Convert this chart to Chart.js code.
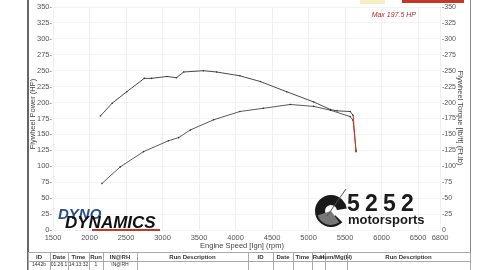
<!DOCTYPE html>
<html>
<head>
<meta charset="utf-8">
<script src="https://cdn.jsdelivr.net/npm/chart.js@4/dist/chart.umd.min.js"></script>
<style>
  html, body { margin: 0; padding: 0; background: #fff; }
  #wrap { width: 480px; height: 270px; position: relative; }
</style>
</head>
<body>
<div id="wrap"><canvas id="dyno" width="480" height="270"></canvas></div>
<script>
// values
var torqueRpm = [2150, 2310, 2510, 2750, 2850, 3060, 3190, 3290, 3560, 3740, 4060, 4340, 4700, 5070, 5300, 5390, 5570, 5610, 5650];
var torqueVal = [179, 199, 217, 238, 238, 241, 239, 248, 250, 248, 242, 233, 217, 201, 189, 187, 186, 180, 123];
var powerRpm = [2170, 2420, 2740, 3080, 3220, 3380, 3700, 4060, 4380, 4750, 5070, 5300, 5570, 5610, 5650];
var powerVal = [73, 99, 123, 140, 145, 157, 173, 186, 191, 197, 194, 188, 178, 172, 125];
var rpmTicks = [1500, 2000, 2500, 3000, 3500, 4000, 4500, 5000, 5500, 6000, 6500, 6800];
var tableLeft = ['ID', 'Date', 'Time', 'Run', 'IN@RH', 'Run Description'];
var tableRight = ['ID', 'Date', 'Time', 'Run', 'Hum/Mg(H)', 'Run Description'];
var tableRow = ['1442b', '01.26.1', '14:13:32', '1', 'IN@RH', ''];

var FONT = "'Liberation Sans Narrow', 'Arial Narrow', 'Liberation Sans', sans-serif";

function toPoints(xs, ys) {
    return xs.map(function(x, i) { return { x: x, y: ys[i] }; });
}

function endRed(count, base) {
    return function(ctx) {
        return ctx.p1DataIndex === count - 1 ? '#c0392b' : base;
    };
}

var sheetPlugin = {
    id: 'sheet',
    beforeDraw: function(chart) {
        var c = chart.ctx;
        c.save();
        c.fillStyle = '#fff';
        c.fillRect(0, 0, 480, 270);
        c.restore();
    },
    afterDraw: function(chart) {
        var c = chart.ctx;
        c.save();

        // frame lines
        c.strokeStyle = '#333';
        c.lineWidth = 1.5;
        c.beginPath();
        c.moveTo(28, 0); c.lineTo(28, 270);
        c.stroke();
        c.strokeStyle = '#888';
        c.lineWidth = 1;
        c.beginPath();
        c.moveTo(470.5, 0); c.lineTo(470.5, 270);
        c.stroke();

        // top strip bits
        c.fillStyle = '#f6f0c8';
        c.fillRect(360, 0, 25, 4);
        c.fillStyle = '#c0392b';
        c.fillRect(402, 0, 62, 3);

        // max label
        c.fillStyle = '#b03030';
        c.font = 'italic 7px ' + FONT;
        c.textAlign = 'right';
        c.textBaseline = 'middle';
        c.fillText('Max 197.5 HP', 416, 15);

        // axis titles
        c.fillStyle = '#444';
        c.font = '7.5px ' + FONT;
        c.textAlign = 'center';
        c.fillText('Engine Speed [Ign] (rpm)', 242, 246);
        c.save();
        c.translate(33, 114);
        c.rotate(-Math.PI / 2);
        c.fillText('Flywheel Power (HP)', 0, 0);
        c.restore();
        c.save();
        c.translate(460, 118);
        c.rotate(Math.PI / 2);
        c.fillText('Flywheel Torque [lb/ft] (Ft.lb)', 0, 0);
        c.restore();

        // Dyno Dynamics logo
        c.textAlign = 'left';
        c.textBaseline = 'alphabetic';
        c.font = 'italic bold 15px ' + FONT;
        c.fillStyle = '#2b4f8f';
        c.fillText('DYNO', 58, 219);
        c.fillStyle = '#111';
        c.font = 'italic bold 17px ' + FONT;
        c.fillText('DYNAMICS', 65, 228);
        c.fillStyle = '#c0392b';
        c.fillRect(92, 229, 68, 2);

        // 5252 motorsports logo
        c.fillStyle = '#1a1a1a';
        c.beginPath();
        c.arc(331, 211, 16, 0.25 * Math.PI, 1.95 * Math.PI);
        c.lineTo(331, 211);
        c.closePath();
        c.fill();
        c.fillStyle = '#fff';
        c.beginPath();
        c.arc(331, 211, 6, 0, 2 * Math.PI);
        c.fill();
        c.fillStyle = '#777';
        c.beginPath();
        c.moveTo(331, 211);
        c.arc(331, 211, 14, 0.3 * Math.PI, 0.9 * Math.PI);
        c.closePath();
        c.fill();
        c.strokeStyle = '#555';
        c.lineWidth = 1;
        c.beginPath();
        c.moveTo(327, 216); c.lineTo(346, 189);
        c.stroke();
        c.fillStyle = '#1a1a1a';
        c.font = 'bold 23px ' + FONT;
        ['5', '2', '5', '2'].forEach(function(d, i) {
            c.fillText(d, 347 + i * 18, 211);
        });
        c.font = 'bold 13px ' + FONT;
        c.fillText('motorsports', 348, 224);

        // run table
        c.strokeStyle = '#aaa';
        c.lineWidth = 1;
        c.beginPath();
        c.moveTo(28, 252.5); c.lineTo(470, 252.5);
        c.moveTo(28, 261.5); c.lineTo(470, 261.5);
        c.stroke();
        var colsL = [28, 50, 68, 89, 103, 137, 248];
        var colsR = [248, 273, 293, 312, 325, 347, 470];
        c.beginPath();
        colsL.concat(colsR).forEach(function(x) {
            c.moveTo(x + 0.5, 252); c.lineTo(x + 0.5, 270);
        });
        c.stroke();
        c.fillStyle = '#333';
        c.font = 'bold 6px ' + FONT;
        c.textAlign = 'center';
        c.textBaseline = 'middle';
        tableLeft.forEach(function(t, i) {
            c.fillText(t, (colsL[i] + colsL[i + 1]) / 2, 257);
        });
        tableRight.forEach(function(t, i) {
            c.fillText(t, (colsR[i] + colsR[i + 1]) / 2, 257);
        });
        c.font = '5px ' + FONT;
        tableRow.forEach(function(t, i) {
            c.fillText(t, (colsL[i] + colsL[i + 1]) / 2, 265);
        });

        c.restore();
    }
};

new Chart(document.getElementById('dyno'), {
    type: 'line',
    data: {
        datasets: [{
            label: 'Torque',
            data: toPoints(torqueRpm, torqueVal),
            borderColor: '#4a4a4a',
            borderWidth: 1,
            pointRadius: 0.8,
            pointBackgroundColor: '#333',
            pointBorderWidth: 0,
            tension: 0,
            yAxisID: 'yR',
            segment: { borderColor: endRed(torqueRpm.length, '#4a4a4a') }
        }, {
            label: 'Power',
            data: toPoints(powerRpm, powerVal),
            borderColor: '#5a5a5a',
            borderWidth: 1,
            pointRadius: 0.8,
            pointBackgroundColor: '#333',
            pointBorderWidth: 0,
            tension: 0,
            yAxisID: 'y',
            segment: { borderColor: endRed(powerRpm.length, '#5a5a5a') }
        }]
    },
    options: {
        responsive: false,
        animation: false,
        layout: { padding: { top: 7, left: 0, right: 0, bottom: 0 } },
        plugins: { legend: { display: false }, tooltip: { enabled: false } },
        scales: {
            x: {
                type: 'linear',
                min: 1500,
                max: 6800,
                afterBuildTicks: function(s) { s.ticks = rpmTicks.map(function(v) { return { value: v }; }); },
                afterFit: function(s) { s.height = 40; },
                grid: { color: '#efefef', drawTicks: false },
                border: { display: false },
                ticks: {
                    padding: 3,
                    maxRotation: 0,
                    autoSkip: false,
                    color: '#555',
                    font: { family: FONT, size: 7.5 },
                    callback: function(v) { return String(v); }
                }
            },
            y: {
                position: 'left',
                min: 0,
                max: 350,
                afterFit: function(s) { s.width = 53; },
                grid: { color: '#f2f2f2', drawTicks: false },
                border: { display: false },
                ticks: {
                    stepSize: 25,
                    padding: 1,
                    color: '#555',
                    font: { family: FONT, size: 7.5 },
                    callback: function(v) { return v + '-'; }
                }
            },
            yR: {
                position: 'right',
                min: 0,
                max: 350,
                afterFit: function(s) { s.width = 40; },
                grid: { display: false, drawTicks: false },
                border: { display: false },
                ticks: {
                    stepSize: 25,
                    padding: 2,
                    color: '#555',
                    font: { family: FONT, size: 7 },
                    callback: function(v) { return v === 0 ? '0' : '-' + v; }
                }
            }
        }
    },
    plugins: [sheetPlugin]
});
</script>
</body>
</html>
